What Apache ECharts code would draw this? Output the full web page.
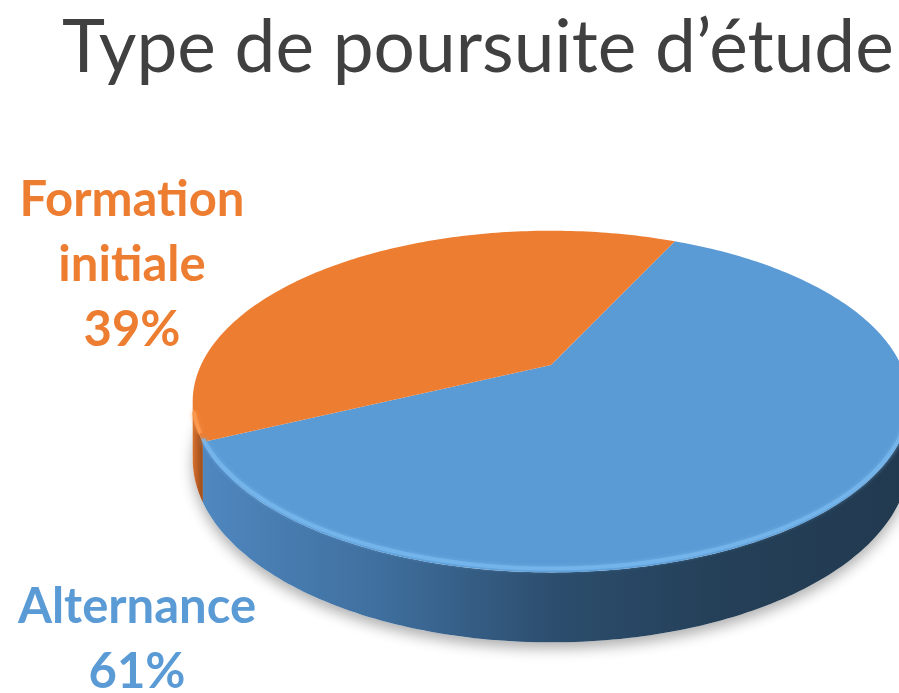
<!DOCTYPE html>
<html>
<head>
<meta charset="utf-8">
<script src="https://cdn.jsdelivr.net/npm/echarts@6/dist/echarts.min.js"></script>
<style>
  html, body { margin: 0; padding: 0; background: #fff; }
  #chart { width: 899px; height: 693px; }
</style>
</head>
<body>
<div id="chart"></div>
<script>
// data
const categories = ['Alternance', 'Formation initiale'];
const values = [61, 39];
const colors = ['#5b9bd5', '#ed7d31'];
const wallColors = [
  ['#4f87bf', '#3f6f9e', '#2c4d6d', '#243f57', '#223a50'],
  ['#d8742f', '#c9672a', '#b85d25', '#a8551f', '#9a4e1d']
];
const rimColors = ['#79b9f0', '#ff9c55'];

// layout of the tilted disc (pixels)
const CX = 551, CY = 365;    // apex of the top face
const RX = 350, RY = 163;    // horizontal / vertical reach
const K = 0.214;             // perspective strength
const H = 55;                // wall height
const START = -65 * Math.PI / 180;
const labelAnchors = [[137, 575], [132, 168]];

const total = values.reduce((s, v) => s + v, 0);
const starts = [];
values.reduce((acc, v) => { starts.push(acc); return acc + v; }, 0);

function proj(t, drop) {
  const d = 1 - K * Math.sin(t);
  return [CX + RX * Math.cos(t) / d, CY + (RY * Math.sin(t) + drop) / d];
}
function arc(t0, t1, drop) {
  const n = Math.max(2, Math.ceil(Math.abs(t1 - t0) / (Math.PI / 180)));
  const pts = [];
  for (let i = 0; i <= n; i++) pts.push(proj(t0 + (t1 - t0) * i / n, drop));
  return pts;
}
// front part of the rim that can be seen
const vis0 = Math.asin(K), vis1 = Math.PI - vis0;
function visibleParts(s, e) {
  const parts = [];
  for (let k = -1; k <= 2; k++) {
    const a = Math.max(s, vis0 + 2 * Math.PI * k);
    const b = Math.min(e, vis1 + 2 * Math.PI * k);
    if (b > a) parts.push([a, b]);
  }
  return parts;
}

const chart = echarts.init(document.getElementById('chart'));

function renderItem(params, api) {
  const i = params.dataIndex;
  const s = START + starts[i] / total * 2 * Math.PI;
  const e = START + (starts[i] + values[i]) / total * 2 * Math.PI;
  const children = [];

  if (i === 0) {
    // soft ground shadow under the whole disc
    children.push({
      type: 'polygon', z2: 0, silent: true,
      shape: { points: arc(0, 2 * Math.PI, H) },
      style: { fill: '#fff', shadowBlur: 14, shadowColor: 'rgba(0,0,0,0.32)', shadowOffsetY: 6 }
    });
  }

  visibleParts(s, e).forEach(([a, b]) => {
    const stops = wallColors[i].map((c, j, arr) => ({ offset: j / (arr.length - 1), color: c }));
    children.push({
      type: 'polygon', z2: 1,
      shape: { points: arc(a, b, 0).concat(arc(b, a, H)) },
      style: { fill: new echarts.graphic.LinearGradient(0, 0, 1, 0, stops) }
    });
  });

  children.push({
    type: 'polygon', z2: 2,
    shape: { points: [[CX, CY]].concat(arc(s, e, 0)) },
    style: { fill: colors[i] }
  });

  visibleParts(s, e).forEach(([a, b]) => {
    children.push({
      type: 'polyline', z2: 3, silent: true,
      shape: { points: arc(a + 0.03, Math.min(b, 2.85 + 2 * Math.PI * Math.floor(b / (2 * Math.PI))), -3) },
      style: { fill: null, stroke: rimColors[i], lineWidth: 4, opacity: 0.7, shadowBlur: 4, shadowColor: rimColors[i] }
    });
  });

  children.push({
    type: 'text', z2: 4,
    style: {
      text: categories[i].replace(' ', '\n') + '\n' + values[i] + '%',
      x: labelAnchors[i][0], y: labelAnchors[i][1],
      align: 'center', verticalAlign: 'top',
      fill: colors[i], fontFamily: 'Lato', fontWeight: 'bold', fontSize: 49, lineHeight: 65
    }
  });

  return { type: 'group', children };
}

chart.setOption({
  animation: false,
  title: {
    text: 'Type de poursuite d’étude',
    left: 57, top: 7,
    textStyle: { fontFamily: 'Lato', fontWeight: 'normal', fontSize: 73, color: '#404040' }
  },
  series: [{
    type: 'custom',
    coordinateSystem: 'none',
    renderItem: renderItem,
    data: categories.map((c, i) => ({ name: c, value: values[i] }))
  }]
});
</script>
</body>
</html>
